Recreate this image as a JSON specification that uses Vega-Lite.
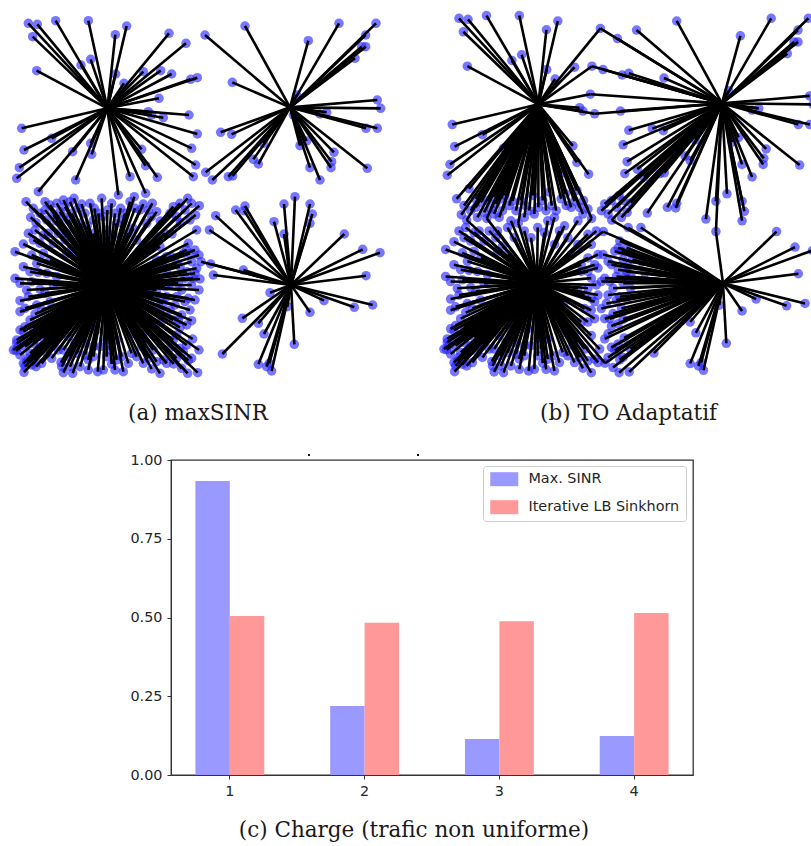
{"$schema":"https://vega.github.io/schema/vega-lite/v6.json","padding":0,"background":"white","spacing":26,"config":{"view":{"stroke":null},"title":{"font":"DejaVu Serif","fontSize":21.5,"fontWeight":"normal","color":"#1a1a1a"}},
"datasets":{"bs":[{"id":"A","bx":322,"by":325},{"id":"B","bx":870,"by":322},{"id":"C","bx":318,"by":855},{"id":"D","bx":873,"by":855}],
"ue":[
{"x":85,"y":70,"a":"A","b":"A"},{"x":112,"y":73,"a":"A","b":"A"},{"x":98,"y":110,"a":"A","b":"A"},{"x":167,"y":62,"a":"A","b":"A"},{"x":265,"y":62,"a":"A","b":"A"},{"x":380,"y":78,"a":"A","b":"A"},{"x":346,"y":104,"a":"A","b":"A"},{"x":507,"y":100,"a":"A","b":"A","b2":"B"},{"x":558,"y":130,"a":"A","b":"B"},{"x":272,"y":178,"a":"A","b":"A"},{"x":243,"y":195,"a":"A","b":"A"},{"x":347,"y":222,"a":"A","b":"A"},{"x":110,"y":212,"a":"A","b":"A"},{"x":430,"y":215,"a":"A","b":"A"},{"x":482,"y":212,"a":"A","b":"A","b2":"B"},{"x":515,"y":222,"a":"A","b":"B"},{"x":372,"y":250,"a":"A","b":"A"},{"x":592,"y":233,"a":"A","b":"B"},{"x":572,"y":238,"a":"A","b":"B"},{"x":477,"y":295,"a":"A","b":"A","b2":"B"},{"x":445,"y":335,"a":"A","b":"A"},{"x":490,"y":353,"a":"A","b":"A","b2":"B"},{"x":455,"y":345,"a":"A","b":"A"},{"x":567,"y":345,"a":"A","b":"B"},{"x":592,"y":402,"a":"A","b":"B"},{"x":575,"y":445,"a":"A","b":"B"},{"x":587,"y":495,"a":"A","b":"B"},{"x":580,"y":530,"a":"A","b":"B"},{"x":425,"y":448,"a":"A","b":"A"},{"x":437,"y":497,"a":"A","b":"A"},{"x":472,"y":532,"a":"A","b":"A"},{"x":390,"y":530,"a":"A","b":"A"},{"x":355,"y":585,"a":"A","b":"A"},{"x":437,"y":580,"a":"A","b":"A"},{"x":227,"y":540,"a":"A","b":"A"},{"x":272,"y":430,"a":"A","b":"A"},{"x":275,"y":463,"a":"A","b":"A"},{"x":218,"y":455,"a":"A","b":"A"},{"x":155,"y":415,"a":"A","b":"A"},{"x":65,"y":385,"a":"A","b":"A"},{"x":72,"y":450,"a":"A","b":"A"},{"x":58,"y":503,"a":"A","b":"A"},{"x":50,"y":535,"a":"A","b":"A"},{"x":115,"y":575,"a":"A","b":"A"},
{"x":615,"y":105,"a":"B","b":"B"},{"x":735,"y":78,"a":"B","b":"B"},{"x":925,"y":122,"a":"B","b":"B"},{"x":1017,"y":70,"a":"B","b":"B"},{"x":1128,"y":70,"a":"B","b":"B"},{"x":1097,"y":105,"a":"B","b":"B"},{"x":1097,"y":140,"a":"B","b":"B"},{"x":1085,"y":140,"a":"B","b":"B"},{"x":1065,"y":175,"a":"B","b":"B"},{"x":697,"y":247,"a":"B","b":"B"},{"x":890,"y":285,"a":"B","b":"B"},{"x":1132,"y":300,"a":"B","b":"B"},{"x":1142,"y":325,"a":"B","b":"B"},{"x":980,"y":337,"a":"B","b":"B"},{"x":960,"y":342,"a":"B","b":"B"},{"x":1132,"y":385,"a":"B","b":"B"},{"x":1098,"y":385,"a":"B","b":"B"},{"x":880,"y":345,"a":"B","b":"B"},{"x":662,"y":397,"a":"B","b":"B"},{"x":695,"y":403,"a":"B","b":"B"},{"x":920,"y":423,"a":"B","b":"B"},{"x":900,"y":437,"a":"B","b":"B"},{"x":1002,"y":457,"a":"B","b":"B"},{"x":995,"y":485,"a":"B","b":"B"},{"x":993,"y":503,"a":"B","b":"B"},{"x":1102,"y":505,"a":"B","b":"B"},{"x":930,"y":503,"a":"B","b":"B"},{"x":960,"y":540,"a":"B","b":"B"},{"x":775,"y":492,"a":"B","b":"B"},{"x":760,"y":478,"a":"B","b":"B"},{"x":617,"y":517,"a":"B","b":"B"},{"x":637,"y":540,"a":"B","b":"B"},{"x":685,"y":530,"a":"B","b":"B"},{"x":698,"y":528,"a":"B","b":"B"},{"x":790,"y":430,"a":"B","b":"B"},
{"x":647,"y":647,"a":"D","b":"B"},{"x":707,"y":630,"a":"D","b":"B"},{"x":735,"y":618,"a":"D","b":"B"},{"x":732,"y":632,"a":"D","b":"B"},{"x":628,"y":690,"a":"D","b":"D"},{"x":822,"y":665,"a":"D","b":"B"},{"x":852,"y":612,"a":"D","b":"B"},{"x":885,"y":590,"a":"D","b":"B"},{"x":930,"y":612,"a":"D","b":"B"},{"x":937,"y":642,"a":"D","b":"B"},{"x":930,"y":670,"a":"D","b":"B"},{"x":852,"y":702,"a":"D","b":"B","b2":"D"},{"x":1033,"y":702,"a":"D","b":"D"},{"x":1088,"y":748,"a":"D","b":"D"},{"x":1140,"y":758,"a":"D","b":"D"},{"x":632,"y":792,"a":"D","b":"D"},{"x":640,"y":825,"a":"D","b":"D"},{"x":730,"y":810,"a":"D","b":"D"},{"x":1098,"y":827,"a":"D","b":"D"},{"x":810,"y":878,"a":"D","b":"D"},{"x":972,"y":902,"a":"D","b":"D"},{"x":1063,"y":922,"a":"D","b":"D"},{"x":1118,"y":915,"a":"D","b":"D"},{"x":930,"y":937,"a":"D","b":"D"},{"x":727,"y":955,"a":"D","b":"D"},{"x":775,"y":970,"a":"D","b":"D"},{"x":792,"y":1002,"a":"D","b":"D"},{"x":862,"y":920,"a":"D","b":"D"},{"x":883,"y":1033,"a":"D","b":"D"},{"x":667,"y":1062,"a":"D","b":"D"},{"x":775,"y":1093,"a":"D","b":"D"},{"x":800,"y":1100,"a":"D","b":"D"},{"x":815,"y":1113,"a":"D","b":"D"},{"x":808,"y":1090,"a":"D","b":"D"},{"x":603,"y":785,"a":"D","b":"D"},
{"x":78,"y":605,"a":"C","b":"A"},{"x":135,"y":605,"a":"C","b":"A"},{"x":135,"y":630,"a":"C","b":"A"},{"x":190,"y":600,"a":"C","b":"A"},{"x":222,"y":595,"a":"C","b":"A"},{"x":245,"y":612,"a":"C","b":"A"},{"x":195,"y":620,"a":"C","b":"A"},{"x":305,"y":595,"a":"C","b":"A"},{"x":283,"y":625,"a":"C","b":"A"},{"x":322,"y":630,"a":"C","b":"A"},{"x":403,"y":590,"a":"C","b":"A"},{"x":390,"y":605,"a":"C","b":"A"},{"x":362,"y":625,"a":"C","b":"A"},{"x":430,"y":612,"a":"C","b":"A"},{"x":457,"y":610,"a":"C","b":"A"},{"x":455,"y":650,"a":"C","b":"A"},{"x":563,"y":595,"a":"C","b":"B"},{"x":540,"y":610,"a":"C","b":"B"},{"x":598,"y":617,"a":"C","b":"B"},{"x":587,"y":645,"a":"C","b":"B"},{"x":520,"y":620,"a":"C","b":"B"},{"x":92,"y":652,"a":"C","b":"A"},{"x":108,"y":668,"a":"C","b":"A","b2":"C"},{"x":105,"y":690,"a":"C","b":"C"},{"x":130,"y":705,"a":"C","b":"C"},{"x":180,"y":635,"a":"C","b":"A"},{"x":168,"y":663,"a":"C","b":"A","b2":"C"},{"x":205,"y":660,"a":"C","b":"A"},{"x":262,"y":677,"a":"C","b":"A","b2":"C"},{"x":350,"y":670,"a":"C","b":"C"},{"x":590,"y":690,"a":"C","b":"D"},{"x":541,"y":668,"a":"C","b":"B","b2":"D"},{"x":400,"y":685,"a":"C","b":"C"},{"x":481,"y":663,"a":"C","b":"A","b2":"C"},{"x":340,"y":705,"a":"C","b":"C"},{"x":516,"y":702,"a":"C","b":"C","b2":"D"},{"x":565,"y":730,"a":"C","b":"D"},{"x":585,"y":750,"a":"C","b":"D"},{"x":597,"y":765,"a":"C","b":"D"},{"x":70,"y":732,"a":"C","b":"C"},{"x":45,"y":755,"a":"C","b":"C"},{"x":95,"y":765,"a":"C","b":"C"},{"x":575,"y":785,"a":"C","b":"D"},{"x":590,"y":805,"a":"C","b":"D"},{"x":200,"y":760,"a":"C","b":"C"},
{"x":115,"y":817,"a":"C","b":"C"},{"x":45,"y":835,"a":"C","b":"C"},{"x":160,"y":855,"a":"C","b":"C"},{"x":80,"y":870,"a":"C","b":"C"},{"x":120,"y":868,"a":"C","b":"C"},{"x":600,"y":837,"a":"C","b":"D"},{"x":580,"y":835,"a":"C","b":"D"},{"x":597,"y":870,"a":"C","b":"D"},{"x":545,"y":870,"a":"C","b":"D"},{"x":565,"y":895,"a":"C","b":"D"},{"x":60,"y":902,"a":"C","b":"C"},{"x":60,"y":935,"a":"C","b":"C"},{"x":105,"y":942,"a":"C","b":"C"},{"x":150,"y":905,"a":"C","b":"C"},{"x":110,"y":915,"a":"C","b":"C"},{"x":525,"y":915,"a":"C","b":"D"},{"x":545,"y":945,"a":"C","b":"D"},{"x":575,"y":962,"a":"C","b":"D"},{"x":570,"y":930,"a":"C","b":"D"},{"x":480,"y":935,"a":"C","b":"C"},{"x":75,"y":980,"a":"C","b":"C"},{"x":70,"y":995,"a":"C","b":"C"},{"x":540,"y":982,"a":"C","b":"D"},{"x":578,"y":1017,"a":"C","b":"D"},{"x":597,"y":1050,"a":"C","b":"D"},{"x":50,"y":1030,"a":"C","b":"C"},{"x":48,"y":1052,"a":"C","b":"C"},{"x":155,"y":1035,"a":"C","b":"C"},{"x":205,"y":1010,"a":"C","b":"C"},{"x":520,"y":1020,"a":"C","b":"D"},{"x":550,"y":1055,"a":"C","b":"D"},{"x":565,"y":1082,"a":"C","b":"D"},{"x":60,"y":1065,"a":"C","b":"C"},{"x":70,"y":1090,"a":"C","b":"C"},{"x":108,"y":1100,"a":"C","b":"C"},{"x":72,"y":1117,"a":"C","b":"C"},{"x":183,"y":1087,"a":"C","b":"C"},{"x":190,"y":1118,"a":"C","b":"C"},{"x":218,"y":1120,"a":"C","b":"C"},{"x":207,"y":1070,"a":"C","b":"C"},{"x":265,"y":1110,"a":"C","b":"C"},{"x":293,"y":1115,"a":"C","b":"C"},{"x":255,"y":1065,"a":"C","b":"C"},{"x":335,"y":1092,"a":"C","b":"C"},{"x":370,"y":1115,"a":"C","b":"C"},{"x":395,"y":1060,"a":"C","b":"C"},{"x":330,"y":1050,"a":"C","b":"C"},{"x":455,"y":1107,"a":"C","b":"C"},{"x":480,"y":1120,"a":"C","b":"C"},{"x":470,"y":1085,"a":"C","b":"C"},{"x":521,"y":1092,"a":"C","b":"C","b2":"D"},{"x":563,"y":1120,"a":"C","b":"D"},{"x":593,"y":1118,"a":"C","b":"D"},
{"x":300,"y":1040,"a":"C","b":"C"},{"x":350,"y":1020,"a":"C","b":"C"},{"x":440,"y":1030,"a":"C","b":"C"},{"x":240,"y":990,"a":"C","b":"C"},{"x":290,"y":990,"a":"C","b":"C"},{"x":400,"y":1000,"a":"C","b":"C"},{"x":450,"y":970,"a":"C","b":"C"},{"x":480,"y":1010,"a":"C","b":"C"},{"x":240,"y":940,"a":"C","b":"C"},{"x":400,"y":910,"a":"C","b":"C"},{"x":200,"y":910,"a":"C","b":"C"},{"x":440,"y":870,"a":"C","b":"C"},{"x":170,"y":830,"a":"C","b":"C"},{"x":450,"y":820,"a":"C","b":"C"},{"x":230,"y":770,"a":"C","b":"C"},{"x":420,"y":770,"a":"C","b":"C"},{"x":300,"y":720,"a":"C","b":"C"},{"x":250,"y":720,"a":"C","b":"C"},{"x":370,"y":740,"a":"C","b":"C"},{"x":500,"y":770,"a":"C","b":"C"},{"x":150,"y":780,"a":"C","b":"C"},{"x":230,"y":690,"a":"C","b":"C"},{"x":470,"y":710,"a":"C","b":"C"},{"x":160,"y":730,"a":"C","b":"C"},{"x":510,"y":850,"a":"C","b":"D"},{"x":500,"y":890,"a":"C","b":"C"},{"x":130,"y":990,"a":"C","b":"C"},{"x":120,"y":1040,"a":"C","b":"C"},{"x":90,"y":1010,"a":"C","b":"C"},{"x":90,"y":1060,"a":"C","b":"C"},{"x":100,"y":1080,"a":"C","b":"C"},{"x":210,"y":1100,"a":"C","b":"C"},{"x":230,"y":1060,"a":"C","b":"C"},{"x":280,"y":1070,"a":"C","b":"C"},{"x":320,"y":1070,"a":"C","b":"C"},{"x":350,"y":1080,"a":"C","b":"C"},{"x":410,"y":1070,"a":"C","b":"C"},{"x":505,"y":1050,"a":"C","b":"C"},{"x":500,"y":810,"a":"C","b":"C"},{"x":540,"y":800,"a":"C","b":"D"},{"x":555,"y":835,"a":"C","b":"D"},{"x":60,"y":990,"a":"C","b":"C"},{"x":40,"y":1050,"a":"C","b":"C"},{"x":85,"y":1075,"a":"C","b":"C"},{"x":55,"y":1040,"a":"C","b":"C"},{"x":65,"y":1020,"a":"C","b":"C"},{"x":75,"y":1100,"a":"C","b":"C"},{"x":95,"y":1095,"a":"C","b":"C"},{"x":50,"y":1020,"a":"C","b":"C"},{"x":130,"y":1015,"a":"C","b":"C"},{"x":110,"y":1060,"a":"C","b":"C"},{"x":140,"y":660,"a":"C","b":"A"},{"x":160,"y":645,"a":"C","b":"A"},{"x":190,"y":650,"a":"C","b":"A"},{"x":215,"y":640,"a":"C","b":"A"},{"x":240,"y":670,"a":"C","b":"C"},{"x":280,"y":660,"a":"C","b":"A"},{"x":310,"y":650,"a":"C","b":"A"},{"x":370,"y":660,"a":"C","b":"C"},{"x":420,"y":630,"a":"C","b":"A"},{"x":440,"y":670,"a":"C","b":"C"},{"x":495,"y":700,"a":"C","b":"C"},{"x":530,"y":650,"a":"C","b":"B"},{"x":555,"y":630,"a":"C","b":"B"},{"x":560,"y":750,"a":"C","b":"D"},{"x":570,"y":760,"a":"C","b":"D"},{"x":560,"y":815,"a":"C","b":"D"},{"x":575,"y":855,"a":"C","b":"D"},{"x":480,"y":840,"a":"C","b":"C"},{"x":470,"y":870,"a":"C","b":"C"},{"x":490,"y":910,"a":"C","b":"C"},{"x":520,"y":960,"a":"C","b":"D"},{"x":470,"y":970,"a":"C","b":"C"},
{"x":100,"y":625,"a":"C","b":"A"},{"x":120,"y":640,"a":"C","b":"A"},{"x":150,"y":615,"a":"C","b":"A"},{"x":170,"y":610,"a":"C","b":"A"},{"x":210,"y":605,"a":"C","b":"A"},{"x":235,"y":625,"a":"C","b":"A"},{"x":255,"y":640,"a":"C","b":"A"},{"x":270,"y":610,"a":"C","b":"A"},{"x":295,"y":640,"a":"C","b":"A"},{"x":335,"y":610,"a":"C","b":"A"},{"x":345,"y":640,"a":"C","b":"A"},{"x":375,"y":640,"a":"C","b":"A"},{"x":405,"y":625,"a":"C","b":"A"},{"x":445,"y":630,"a":"C","b":"A"},{"x":470,"y":635,"a":"C","b":"A"},
{"x":85,"y":700,"a":"C","b":"C"},{"x":100,"y":720,"a":"C","b":"C"},{"x":120,"y":730,"a":"C","b":"C"},{"x":145,"y":700,"a":"C","b":"C"},{"x":175,"y":700,"a":"C","b":"C"},{"x":195,"y":720,"a":"C","b":"C"},{"x":215,"y":745,"a":"C","b":"C"},{"x":130,"y":760,"a":"C","b":"C"},{"x":110,"y":790,"a":"C","b":"C"},{"x":70,"y":800,"a":"C","b":"C"},{"x":90,"y":815,"a":"C","b":"C"},{"x":140,"y":820,"a":"C","b":"C"},{"x":60,"y":850,"a":"C","b":"C"},{"x":95,"y":845,"a":"C","b":"C"},{"x":135,"y":880,"a":"C","b":"C"},{"x":85,"y":890,"a":"C","b":"C"},{"x":75,"y":925,"a":"C","b":"C"},{"x":125,"y":930,"a":"C","b":"C"},{"x":90,"y":960,"a":"C","b":"C"},{"x":135,"y":965,"a":"C","b":"C"},{"x":165,"y":950,"a":"C","b":"C"},{"x":100,"y":985,"a":"C","b":"C"},{"x":165,"y":990,"a":"C","b":"C"},{"x":75,"y":1040,"a":"C","b":"C"},{"x":100,"y":1030,"a":"C","b":"C"},{"x":140,"y":1060,"a":"C","b":"C"},{"x":175,"y":1050,"a":"C","b":"C"},{"x":80,"y":1085,"a":"C","b":"C"},{"x":125,"y":1090,"a":"C","b":"C"},{"x":155,"y":1075,"a":"C","b":"C"},{"x":190,"y":1050,"a":"C","b":"C"},{"x":225,"y":1030,"a":"C","b":"C"},{"x":185,"y":1100,"a":"C","b":"C"},{"x":240,"y":1100,"a":"C","b":"C"},{"x":265,"y":1080,"a":"C","b":"C"},{"x":250,"y":1030,"a":"C","b":"C"},{"x":280,"y":1040,"a":"C","b":"C"},{"x":310,"y":1110,"a":"C","b":"C"},{"x":320,"y":1020,"a":"C","b":"C"},{"x":345,"y":1110,"a":"C","b":"C"},{"x":365,"y":1070,"a":"C","b":"C"},{"x":385,"y":1090,"a":"C","b":"C"},{"x":425,"y":1040,"a":"C","b":"C"},{"x":430,"y":1090,"a":"C","b":"C"},{"x":445,"y":1075,"a":"C","b":"C"},{"x":490,"y":1080,"a":"C","b":"C"},{"x":460,"y":1050,"a":"C","b":"C"},{"x":500,"y":1090,"a":"C","b":"C"},{"x":430,"y":1000,"a":"C","b":"C"},{"x":490,"y":960,"a":"C","b":"C"},{"x":460,"y":930,"a":"C","b":"C"},{"x":470,"y":780,"a":"C","b":"C"},{"x":480,"y":740,"a":"C","b":"C"},{"x":440,"y":740,"a":"C","b":"C"},{"x":410,"y":720,"a":"C","b":"C"},{"x":385,"y":700,"a":"C","b":"C"},{"x":320,"y":690,"a":"C","b":"C"},{"x":280,"y":700,"a":"C","b":"C"},{"x":200,"y":700,"a":"C","b":"C"},{"x":450,"y":800,"a":"C","b":"C"},{"x":470,"y":820,"a":"C","b":"C"},{"x":490,"y":800,"a":"C","b":"C"},{"x":495,"y":860,"a":"C","b":"C"},{"x":460,"y":890,"a":"C","b":"C"},{"x":480,"y":900,"a":"C","b":"C"},
{"x":515,"y":770,"a":"C","b":"D"},{"x":530,"y":790,"a":"C","b":"D"},{"x":550,"y":760,"a":"C","b":"D"},{"x":520,"y":840,"a":"C","b":"D"},{"x":535,"y":850,"a":"C","b":"D"},{"x":585,"y":820,"a":"C","b":"D"},{"x":530,"y":890,"a":"C","b":"D"},{"x":555,"y":905,"a":"C","b":"D"},{"x":585,"y":900,"a":"C","b":"D"},{"x":510,"y":930,"a":"C","b":"D"},{"x":535,"y":960,"a":"C","b":"D"},{"x":560,"y":975,"a":"C","b":"D"},{"x":530,"y":1005,"a":"C","b":"D"},{"x":560,"y":1035,"a":"C","b":"D"},{"x":540,"y":1045,"a":"C","b":"D"},{"x":575,"y":1075,"a":"C","b":"D"},{"x":530,"y":1075,"a":"C","b":"D"},{"x":545,"y":1105,"a":"C","b":"D"},{"x":510,"y":640,"a":"C","b":"B"},{"x":575,"y":610,"a":"C","b":"B"},{"x":570,"y":660,"a":"C","b":"B"}
],
"bars":[{"charge":"1","serie":"Max. SINR","part":0.933},{"charge":"1","serie":"Iterative LB Sinkhorn","part":0.505},{"charge":"2","serie":"Max. SINR","part":0.219},{"charge":"2","serie":"Iterative LB Sinkhorn","part":0.483},{"charge":"3","serie":"Max. SINR","part":0.114},{"charge":"3","serie":"Iterative LB Sinkhorn","part":0.488},{"charge":"4","serie":"Max. SINR","part":0.124},{"charge":"4","serie":"Iterative LB Sinkhorn","part":0.514}],
"marks":[{"cx":1.585},{"cx":2.393}]},
"vconcat":[
{"hconcat":[
{"width":396,"height":390,"title":{"text":"(a) maxSINR","orient":"bottom","anchor":"middle","offset":13},"data":{"name":"ue"},
"transform":[{"lookup":"a","from":{"data":{"name":"bs"},"key":"id","fields":["bx","by"]}}],
"encoding":{"x":{"field":"x","type":"quantitative","axis":null,"scale":{"domain":[0,1188],"nice":false,"zero":false}},"y":{"field":"y","type":"quantitative","axis":null,"scale":{"domain":[0,1170],"reverse":true,"nice":false,"zero":false}}},
"layer":[{"mark":{"type":"circle","size":90,"color":"#2222ff","opacity":0.62}},{"mark":{"type":"rule","color":"black","strokeWidth":2.6},"encoding":{"x2":{"field":"bx"},"y2":{"field":"by"}}}]},
{"width":381,"height":390,"title":{"text":"(b) TO Adaptatif","orient":"bottom","anchor":"middle","offset":13,"dx":8},"data":{"name":"ue"},
"encoding":{"x":{"field":"x","type":"quantitative","axis":null,"scale":{"domain":[-1.5,1135.8],"nice":false,"zero":false}},"y":{"field":"y","type":"quantitative","axis":null,"scale":{"domain":[15.8,1171.4],"reverse":true,"nice":false,"zero":false}}},
"layer":[{"mark":{"type":"circle","size":90,"color":"#2222ff","opacity":0.62,"clip":true}},
{"transform":[{"lookup":"b","from":{"data":{"name":"bs"},"key":"id","fields":["bx","by"]}}],"mark":{"type":"rule","color":"black","strokeWidth":2.6,"clip":true},"encoding":{"x2":{"field":"bx"},"y2":{"field":"by"}}},
{"transform":[{"filter":"datum.b2"},{"lookup":"b2","from":{"data":{"name":"bs"},"key":"id","fields":["bx","by"]}}],"mark":{"type":"rule","color":"black","strokeWidth":2.6,"clip":true},"encoding":{"x2":{"field":"bx"},"y2":{"field":"by"}}}]}
],"spacing":34},
{"hconcat":[
{"width":125,"height":315,"data":{"values":[]},"mark":{"type":"point","opacity":0},"encoding":{}},
{"width":522,"height":315,"title":{"text":"(c) Charge (trafic non uniforme)","orient":"bottom","anchor":"middle","offset":23,"dx":-18},"view":{"stroke":"#333333","strokeWidth":1.3},
"layer":[
{"data":{"name":"bars"},"mark":{"type":"bar"},"encoding":{
"x":{"field":"charge","type":"nominal","title":null,"scale":{"paddingInner":0.489,"paddingOuter":0.181},"axis":{"labelAngle":0,"labelFont":"DejaVu Sans","labelFontSize":14.4,"labelColor":"#262626","tickColor":"#333333","domainColor":"#333333","tickSize":4,"labelPadding":5}},
"xOffset":{"field":"serie","type":"nominal","sort":["Max. SINR","Iterative LB Sinkhorn"],"scale":{"paddingInner":0,"paddingOuter":0}},
"y":{"field":"part","type":"quantitative","title":null,"scale":{"domain":[0,1],"nice":false},"axis":{"values":[0,0.25,0.5,0.75,1],"format":".2f","grid":false,"minExtent":45,"labelFont":"DejaVu Sans","labelFontSize":14.4,"labelColor":"#262626","tickColor":"#333333","domainColor":"#333333","tickSize":4,"labelPadding":5}},
"color":{"field":"serie","type":"nominal","sort":["Max. SINR","Iterative LB Sinkhorn"],"scale":{"domain":["Max. SINR","Iterative LB Sinkhorn"],"range":["#9999ff","#ff9999"]},
"legend":{"title":null,"orient":"none","legendX":483,"legendY":466,"fillColor":"white","strokeColor":"#cccccc","cornerRadius":3,"padding":6,"labelFont":"DejaVu Sans","labelFontSize":14.4,"labelColor":"#262626","symbolType":"M-0.85,-1H3.15V1H-0.85Z","symbolSize":196,"symbolOpacity":1,"symbolStrokeWidth":0,"labelOffset":25,"rowPadding":12}}}},
{"data":{"name":"marks"},"mark":{"type":"square","size":4,"color":"black","opacity":1},"encoding":{"x":{"field":"cx","type":"quantitative","axis":null,"scale":{"domain":[0.563,4.43],"nice":false,"zero":false}},"y":{"datum":1.016}}}
],"resolve":{"scale":{"x":"independent"}}}
],"spacing":0}
]}
